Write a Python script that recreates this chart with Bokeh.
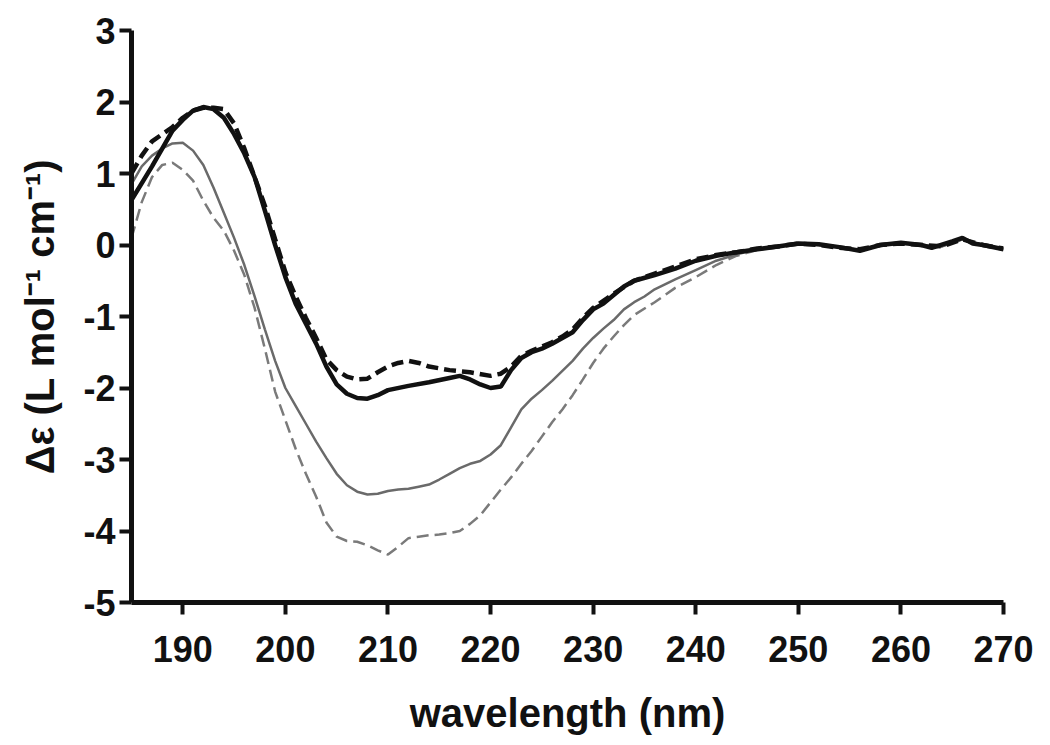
import math
from bokeh.plotting import figure
from bokeh.models import Range1d, FixedTicker
from bokeh.embed import file_html
from bokeh.resources import INLINE

# ---- data ----
bs_x = [185, 187, 189, 190, 191, 192, 193, 194, 195, 196, 197, 198, 199, 200, 201, 202, 203, 204, 205,
        206, 207, 208, 209, 210, 212, 214, 216, 217, 218, 219, 220, 221, 222, 223, 224, 225, 226, 227,
        228, 229, 230, 231, 232, 233, 234, 236, 238, 240, 242, 244, 246, 248, 250, 252, 254, 256, 258,
        260, 262, 263, 265, 266, 267, 268, 270]
bs_y = [0.63, 1.1, 1.6, 1.75, 1.88, 1.93, 1.9, 1.78, 1.55, 1.28, 0.95, 0.48, 0.0, -0.45, -0.82, -1.1,
        -1.38, -1.7, -1.95, -2.08, -2.14, -2.15, -2.1, -2.03, -1.97, -1.92, -1.86, -1.83, -1.88, -1.95,
        -2.0, -1.98, -1.75, -1.58, -1.5, -1.45, -1.38, -1.3, -1.22, -1.05, -0.9, -0.82, -0.7, -0.58,
        -0.5, -0.42, -0.33, -0.22, -0.15, -0.1, -0.06, -0.02, 0.02, 0.01, -0.03, -0.08, 0.0, 0.03, 0.0,
        -0.04, 0.05, 0.1, 0.02, 0.0, -0.06]

bd_x = [185, 186, 187, 188, 189, 190, 191, 192, 193, 194, 195, 196, 197, 198, 199, 200, 201, 202, 203,
        204, 205, 206, 207, 208, 209, 210, 211, 212, 213, 214, 216, 218, 220, 221, 222, 223, 224, 225,
        226, 227, 228, 229, 230, 232, 234, 236, 238, 240, 242, 244, 246, 248, 250, 252, 254, 256, 258,
        260, 262, 264, 266, 268, 270]
bd_y = [1.0, 1.25, 1.45, 1.55, 1.65, 1.78, 1.88, 1.92, 1.92, 1.9, 1.7, 1.35, 0.95, 0.55, 0.08, -0.38,
        -0.72, -1.02, -1.3, -1.6, -1.75, -1.84, -1.88, -1.87, -1.78, -1.7, -1.65, -1.62, -1.65, -1.7,
        -1.75, -1.78, -1.83, -1.8, -1.7, -1.55, -1.48, -1.42, -1.36, -1.28, -1.18, -1.02, -0.88, -0.68,
        -0.5, -0.4, -0.3, -0.2, -0.14, -0.1, -0.05, -0.02, 0.02, 0.0, -0.04, -0.06, 0.0, 0.02, 0.0,
        -0.02, 0.08, 0.0, -0.05]

gs_x = [185, 186, 187, 188, 189, 190, 191, 192, 193, 194, 195, 196, 197, 198, 199, 200, 201, 202, 203,
        204, 205, 206, 207, 208, 209, 210, 211, 212, 213, 214, 215, 216, 217, 218, 219, 220, 221, 222,
        223, 224, 225, 226, 227, 228, 229, 230, 231, 232, 233, 234, 235, 236, 238, 240, 242, 244, 246,
        248, 250, 252, 254, 256, 258, 260, 262, 264, 266, 268, 270]
gs_y = [0.85, 1.1, 1.25, 1.35, 1.42, 1.43, 1.32, 1.12, 0.8, 0.45, 0.1, -0.28, -0.72, -1.18, -1.62,
        -2.0, -2.25, -2.5, -2.75, -2.98, -3.2, -3.36, -3.45, -3.49, -3.48, -3.44, -3.42, -3.41, -3.38,
        -3.35, -3.28, -3.2, -3.12, -3.06, -3.02, -2.93, -2.8, -2.55, -2.3, -2.15, -2.03, -1.9, -1.76,
        -1.62, -1.45, -1.3, -1.17, -1.05, -0.9, -0.8, -0.72, -0.62, -0.48, -0.35, -0.22, -0.13, -0.06,
        -0.02, 0.02, 0.0, -0.03, -0.07, 0.0, 0.03, 0.0, -0.02, 0.08, 0.0, -0.06]

gd_x = [185, 186, 187, 188, 189, 190, 191, 192, 193, 194, 195, 196, 197, 198, 199, 200, 201, 202, 203,
        204, 205, 206, 207, 208, 209, 210, 211, 212, 213, 214, 215, 216, 217, 218, 219, 220, 221, 222,
        223, 224, 225, 226, 227, 228, 229, 230, 231, 232, 233, 234, 236, 238, 240, 242, 244, 246, 248,
        250, 252, 254, 256, 258, 260, 262, 264, 266, 268, 270]
gd_y = [0.1, 0.6, 0.95, 1.12, 1.15, 1.05, 0.9, 0.62, 0.38, 0.2, -0.08, -0.42, -0.88, -1.45, -2.05,
        -2.45, -2.85, -3.2, -3.52, -3.88, -4.08, -4.14, -4.15, -4.2, -4.27, -4.33, -4.22, -4.1, -4.08,
        -4.06, -4.05, -4.03, -4.0, -3.9, -3.78, -3.6, -3.42, -3.25, -3.06, -2.88, -2.68, -2.48, -2.3,
        -2.1, -1.88, -1.65, -1.45, -1.28, -1.12, -0.98, -0.8, -0.6, -0.45, -0.28, -0.15, -0.07, -0.02,
        0.02, 0.0, -0.03, -0.07, 0.0, 0.03, 0.0, -0.02, 0.08, 0.0, -0.06]

x_ticks = [190, 200, 210, 220, 230, 240, 250, 260, 270]
y_ticks = [-5, -4, -3, -2, -1, 0, 1, 2, 3]
y_tick_labels = ["-5", "-4", "-3", "-2", "-1", "0", "1", "2", "3"]
x_label = "wavelength (nm)"
y_label = "\u0394\u03b5 (L mol\u207b\u00b9 cm\u207b\u00b9)"

FONT = "Liberation Sans"

p = figure(width=1034, height=737, output_backend="svg", toolbar_location=None,
           x_range=Range1d(185, 270), y_range=Range1d(-5, 3),
           min_border_left=131, min_border_right=31, min_border_top=30, min_border_bottom=132)
p.outline_line_color = None
p.grid.visible = False
p.background_fill_color = "white"

# curves
p.line(gd_x, gd_y, line_color="#7a7a7a", line_width=2.5, line_dash="12 6")
p.line(gs_x, gs_y, line_color="#6a6a6a", line_width=2.5)
p.line(bd_x, bd_y, line_color="#111111", line_width=4.5, line_dash="12 6")
p.line(bs_x, bs_y, line_color="#111111", line_width=4.5)

for ax in (p.xaxis[0], p.yaxis[0]):
    ax.axis_line_width = 5
    ax.axis_line_color = "#111111"
    ax.major_tick_line_width = 4
    ax.major_tick_line_color = "#111111"
    ax.major_tick_out = 12
    ax.major_tick_in = 0
    ax.minor_tick_line_color = None
    ax.major_label_text_font = FONT
    ax.major_label_text_font_style = "bold"
    ax.major_label_text_font_size = "36px"
    ax.major_label_text_color = "#111111"
    ax.axis_label_text_font = FONT
    ax.axis_label_text_font_style = "bold"
    ax.axis_label_text_font_size = "40px"
    ax.axis_label_text_color = "#111111"

p.xaxis[0].ticker = FixedTicker(ticks=x_ticks)
p.yaxis[0].ticker = FixedTicker(ticks=y_ticks)
p.yaxis[0].major_label_overrides = {t: s for t, s in zip(y_ticks, y_tick_labels)}
p.xaxis[0].major_label_standoff = 21
p.yaxis[0].major_label_standoff = 4

p.xaxis[0].axis_label = x_label
p.xaxis[0].axis_label_standoff = 26
p.yaxis[0].axis_label = y_label
p.yaxis[0].axis_label_standoff = 18

open("out.html", "w").write(file_html(p, INLINE))
